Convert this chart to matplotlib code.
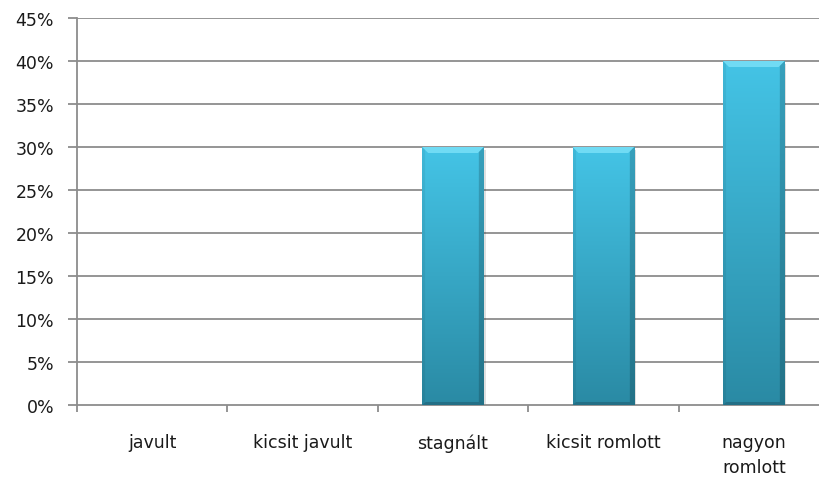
import matplotlib.pyplot as plt
import numpy as np
from matplotlib.patches import Polygon, Rectangle
from matplotlib.colors import to_rgb

# adatok
kategoriak = ['javult', 'kicsit javult', 'stagnált', 'kicsit romlott', 'nagyon\nromlott']
ertekek = [0, 0, 30, 30, 40]
y_tickek = list(range(0, 50, 5))

plt.rcParams['font.family'] = ['DejaVu Sans']
szurke = '#8c8c8c'

fig = plt.figure(figsize=(8.19, 4.81), dpi=100)
ax = fig.add_axes([77 / 819, 75 / 481, 752 / 819, 387 / 481])
ax.set_xlim(0, len(kategoriak))
ax.set_ylim(0, 45)

# rácsvonalak
for y in y_tickek[1:]:
    ax.axhline(y, color=szurke, lw=1.3, zorder=1)

for s in ['top', 'right']:
    ax.spines[s].set_visible(False)
for s in ['left', 'bottom']:
    ax.spines[s].set_color(szurke)
    ax.spines[s].set_linewidth(1.3)

ax.set_yticks(y_tickek)
ax.set_yticklabels([f'{v}%' for v in y_tickek])
ax.set_xticks(range(len(kategoriak) + 1))
ax.set_xticklabels([])
ax.tick_params(axis='y', length=6.5, width=1.3, color=szurke, labelsize=12.5, pad=10, labelcolor='#1a1a1a')
ax.tick_params(axis='x', length=5, width=1.3, color=szurke)

# kategória feliratok
for i, nev in enumerate(kategoriak):
    ax.annotate(nev, xy=(i + 0.5, 0), xycoords=('data', 'axes fraction'),
                xytext=(0, -20.5), textcoords='offset points', ha='center', va='top',
                fontsize=12.5, color='#1a1a1a', linespacing=1.45)

# oszlopok színátmenettel
vilagos = np.array(to_rgb('#44c4e6'))
sotet = np.array(to_rgb('#2a8aa4'))
szel = 0.41
dx = 0.04    # kb. 6 px
dy = 0.7     # kb. 6 px
for i, h in enumerate(ertekek):
    if h <= 0:
        continue
    x0 = i + 0.5 - szel / 2
    x1 = i + 0.5 + szel / 2
    # árnyék
    ax.add_patch(Rectangle((x0 + 0.012, -0.35), szel, h, color='black', alpha=0.12, lw=0, zorder=2))
    ny, nx = 200, 60
    t = np.linspace(1, 0, ny)[:, None, None]
    img = sotet + (vilagos - sotet) * t
    img = np.repeat(img, nx, axis=1)
    xs = np.linspace(0, 1, nx)
    fakt = np.ones(nx)
    fakt[xs > 0.93] = 0.82
    fakt[xs < 0.04] = 0.94
    img = img * fakt[None, :, None]
    ax.imshow(img, extent=(x0, x1, 0, h), aspect='auto', origin='upper', zorder=3, interpolation='bilinear')
    # felső fazetta
    ax.add_patch(Polygon([(x0, h), (x1, h), (x1 - dx, h - dy), (x0 + dx, h - dy)],
                         closed=True, color='#70dbf4', lw=0, zorder=4))
    # alsó fazetta
    ax.add_patch(Polygon([(x0, 0), (x1, 0), (x1 - dx * 0.6, dy * 0.5), (x0 + dx * 0.6, dy * 0.5)],
                         closed=True, color='#236f86', lw=0, zorder=4))

ax.set_xlim(0, len(kategoriak))
ax.set_ylim(0, 45)
fig.savefig('out.png', dpi=100)
